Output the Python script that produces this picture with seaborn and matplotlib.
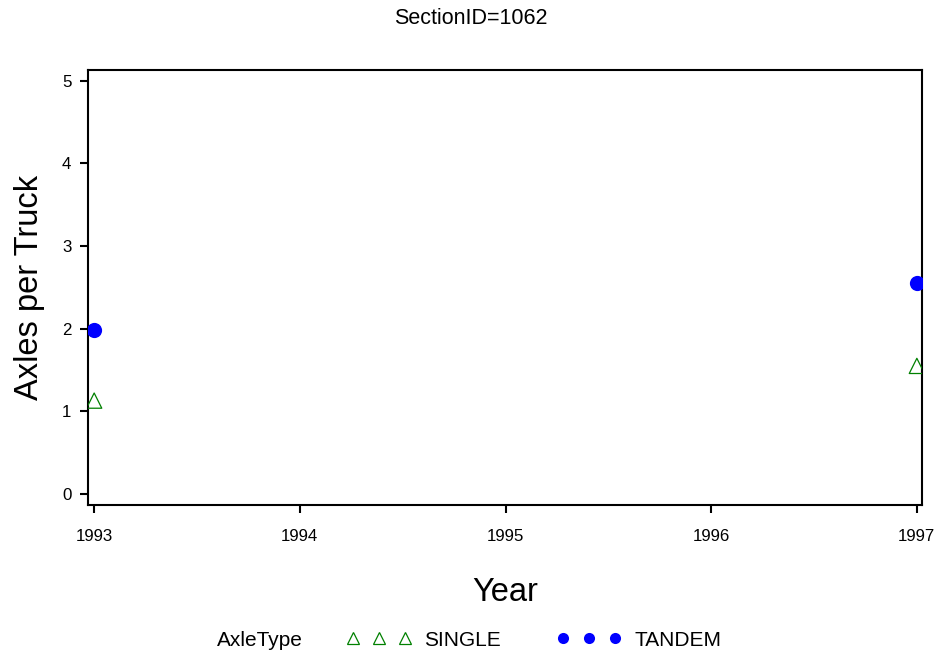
import matplotlib
matplotlib.use("Agg")
import matplotlib.pyplot as plt
import seaborn as sns
import pandas as pd
from matplotlib.lines import Line2D

years = [1993, 1997]
single_vals = [1.13, 1.55]
tandem_vals = [1.99, 2.55]
axle_types = ["SINGLE", "TANDEM"]
xticks = [1993, 1994, 1995, 1996, 1997]
yticks = [0, 1, 2, 3, 4, 5]

sns.set_style("ticks")
plt.rcParams["font.family"] = ["Liberation Sans", "DejaVu Sans"]
plt.rcParams["text.color"] = "black"
plt.rcParams["axes.labelcolor"] = "black"
plt.rcParams["xtick.color"] = "black"
plt.rcParams["ytick.color"] = "black"

df = pd.DataFrame({
    "Year": years * 2,
    "Axles": single_vals + tandem_vals,
    "AxleType": [axle_types[0]] * 2 + [axle_types[1]] * 2,
})

fig = plt.figure(figsize=(9.42, 6.59), dpi=100)
ax = fig.add_axes([88 / 942, 1 - 505 / 659, (922 - 88) / 942, (505 - 70) / 659])

sns.scatterplot(data=df[df.AxleType == "SINGLE"], x="Year", y="Axles", ax=ax,
                marker="^", s=120, facecolors="none", edgecolor="green",
                linewidth=0.9, legend=False, zorder=3)
sns.scatterplot(data=df[df.AxleType == "TANDEM"], x="Year", y="Axles", ax=ax,
                marker="o", s=120, color="blue", edgecolor="blue",
                linewidth=0, legend=False, zorder=3)

ax.set_xlim(1992.97, 1997.025)
ax.set_ylim(-0.133, 5.13)
ax.set_xticks(xticks)
ax.set_xticklabels([str(x) for x in xticks])
ax.set_yticks(yticks)
for side in ["left", "right", "top", "bottom"]:
    ax.spines[side].set_visible(True)
    ax.spines[side].set_linewidth(1.5)
    ax.spines[side].set_color("black")
ax.tick_params(axis="both", which="both", direction="out", length=6, width=1.5,
               labelsize=12.2, top=False, right=False, pad=6, colors="black")
ax.tick_params(axis="x", pad=11)
ax.set_xlabel("Year", fontsize=23.5, labelpad=24)
ax.set_ylabel("Axles per Truck", fontsize=23.5, labelpad=12)
ax.grid(False)

fig.text(0.5, 1 - 18 / 659, "SectionID=1062", ha="center", va="center", fontsize=15.5)

fig.text(217 / 942, 1 - 641 / 659, "AxleType", ha="left", va="center", fontsize=15)
handles = [
    Line2D([], [], linestyle="none", marker="^", markersize=8, markerfacecolor="none",
           markeredgecolor="green", markeredgewidth=0.9),
    Line2D([], [], linestyle="none", marker="o", markersize=8, markerfacecolor="blue",
           markeredgecolor="blue", markeredgewidth=0),
]
fig.legend(handles, axle_types, loc="center left", bbox_to_anchor=(347 / 942, 1 - 640 / 659),
           ncol=2, numpoints=3, frameon=False, fontsize=15, handlelength=3.1,
           handletextpad=0.6, columnspacing=2.7, borderaxespad=0, borderpad=0)

fig.savefig("out.png", dpi=100)
